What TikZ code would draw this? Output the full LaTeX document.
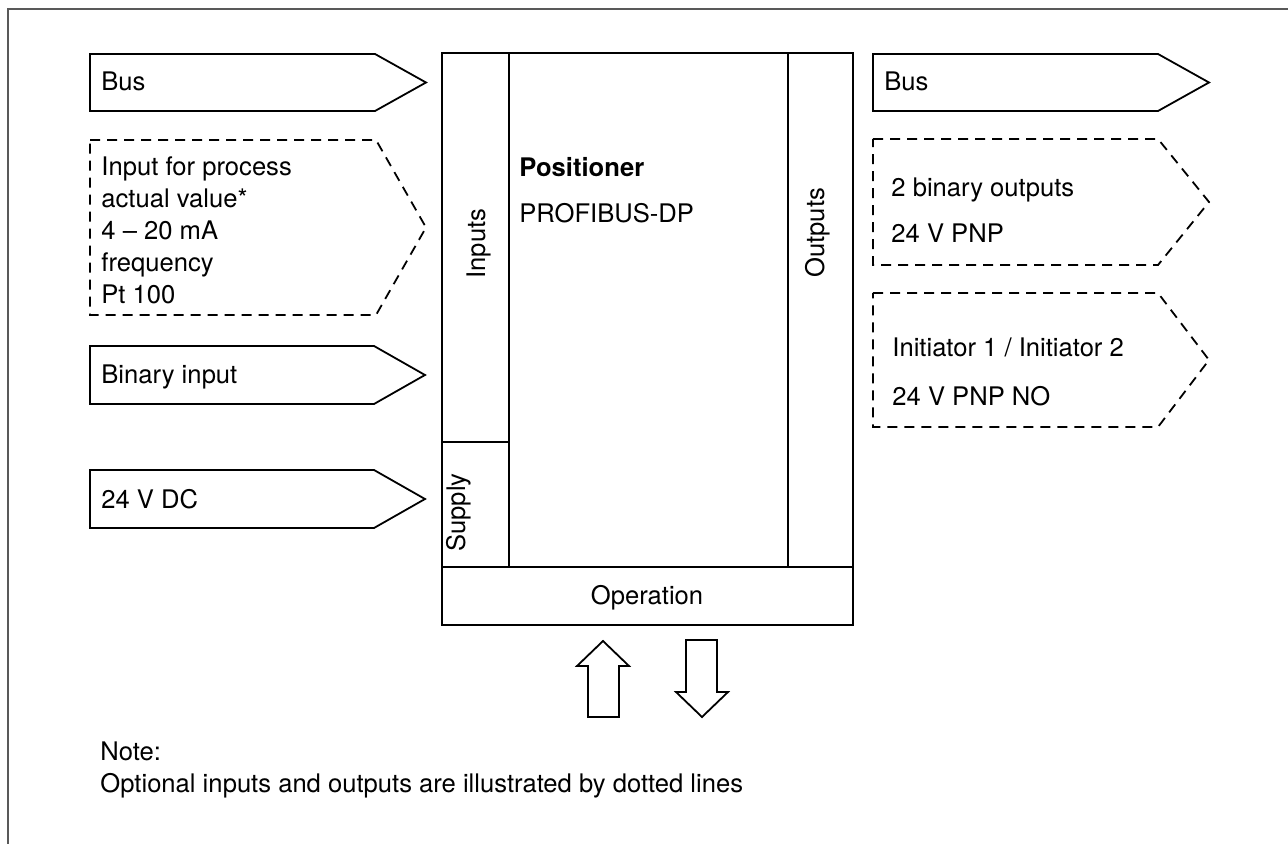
\documentclass[tikz,border=0pt]{standalone}
\usepackage{fontspec}
\setmainfont{TeX Gyre Heros}
\begin{document}
\begin{tikzpicture}[x=0.5pt,y=-0.5pt,
  outline/.style={line width=0.9pt,line join=miter},
  optional/.style={outline,dash pattern=on 5pt off 3.5pt},
  lbl/.style={inner sep=0pt,anchor=base west,font=\fontsize{12.8}{16}\selectfont}]
  \useasboundingbox (0,0) rectangle (1288,844);
  % frame
  \draw[black!65,line width=0.8pt] (8,844) -- (8,9) -- (1288,9);
  % signal arrows: left/top/bottom/tip start/tip
  \foreach \l/\t/\b/\s/\e in {90/54/111/375/426, 90/346/404/374/425,
                              90/470/528/374/425, 873/54/111/1158/1209}
     \draw[outline] (\l,\t) -- (\s,\t) -- (\e,{(\t+\b)/2}) -- (\s,\b) -- (\l,\b) -- cycle;
  \foreach \l/\t/\b/\s/\e in {90/140/315/376/426, 873/139/265/1158/1209,
                              873/293/427/1158/1209}
     \draw[optional] (\l,\t) -- (\s,\t) -- (\e,{(\t+\b)/2}) -- (\s,\b) -- (\l,\b) -- cycle;
  % inputs
  \node[lbl] (busin) at (101,91) {Bus};
  \foreach \txt [count=\i] in {Input for process, actual value*, 4 – 20 mA,
                               frequency, Pt 100}
     \node[lbl] (pvin\i) at (101,{144+32*\i}) {\txt};
  \node[lbl] (binin) at (101,383) {Binary input};
  \node[lbl] (supin) at (101,508) {24 V DC};
  % outputs
  \node[lbl] (busout) at (884,91) {Bus};
  \node[lbl] (binout1) at (891,197) {2 binary outputs};
  \node[lbl] (binout2) at (891,243) {24 V PNP};
  \node[lbl] (init1) at (892,357) {Initiator 1 / Initiator 2};
  \node[lbl] (init2) at (892,405) {24 V PNP NO};
  % positioner block
  \draw[outline] (442,53) rectangle (853,625);
  \draw[outline] (509,53) -- (509,567) (788,53) -- (788,567)
                 (442,567) -- (853,567) (442,442) -- (509,442);
  \node[lbl,rotate=90] (inp) at (485,279) {Inputs};
  \node[lbl,rotate=90] (sup) at (465,552) {Supply};
  \node[lbl,rotate=90] (outp) at (824,278) {Outputs};
  \node[lbl,font=\fontsize{12.8}{16}\selectfont\bfseries] (pos) at (519,177) {Positioner};
  \node[lbl] (prof) at (519,223) {PROFIBUS-DP};
  \node[lbl,anchor=base] (oper) at (647,604) {Operation};
  % operation arrows
  \draw[outline] (588,717) -- (588,666) -- (577,666) -- (603,641) -- (629,666)
                 -- (619,666) -- (619,717) -- cycle;
  \draw[outline] (686,640) -- (686,692) -- (676,692) -- (702,717) -- (728,692)
                 -- (717,692) -- (717,640) -- cycle;
  % note
  \node[lbl] (note1) at (100,760) {Note:};
  \node[lbl] (note2) at (100,792) {Optional inputs and outputs are illustrated by dotted lines};
\end{tikzpicture}
\end{document}
